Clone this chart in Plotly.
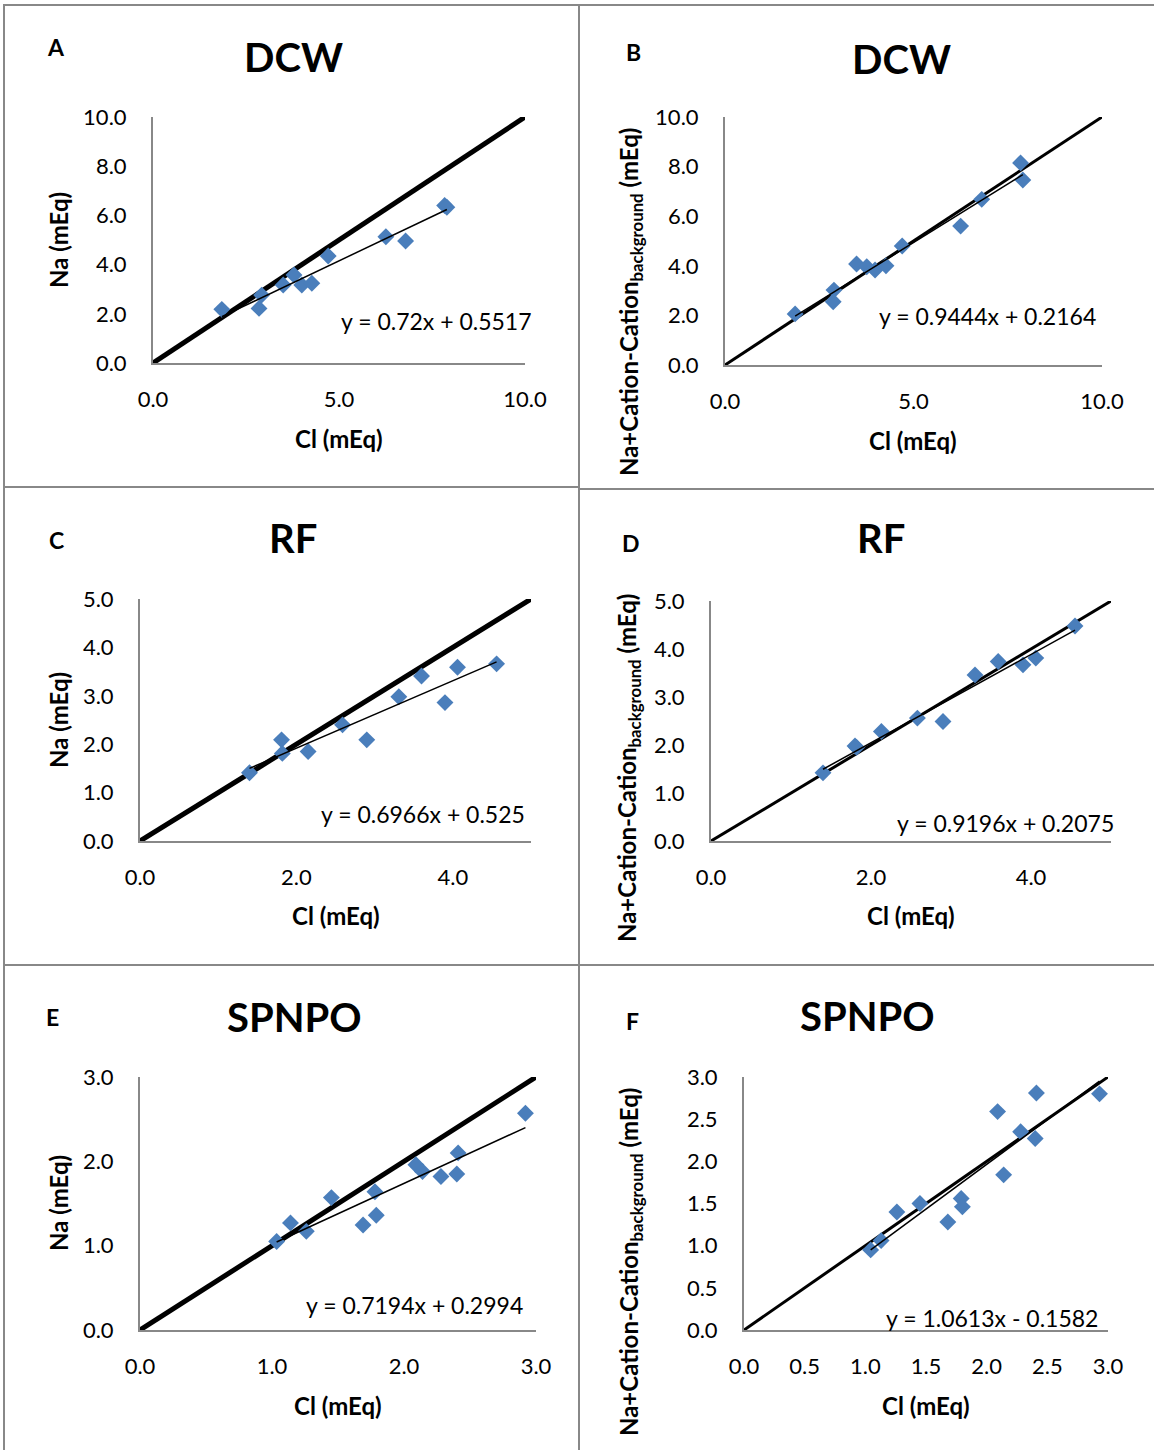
import plotly.graph_objects as go

W, H = 1154, 1450

# ---------------- data ----------------
A_cl = [1.85, 2.85, 2.92, 3.50, 3.79, 4.00, 4.27, 4.71, 6.26, 6.79, 7.84, 7.90]
A_na = [2.18, 2.22, 2.76, 3.17, 3.58, 3.17, 3.24, 4.35, 5.13, 4.96, 6.40, 6.33]

B_cl = [1.86, 2.87, 2.89, 3.49, 3.76, 3.98, 4.27, 4.70, 6.25, 6.81, 7.84, 7.90]
B_na = [2.06, 2.55, 3.02, 4.07, 3.96, 3.83, 4.00, 4.80, 5.60, 6.68, 8.15, 7.46]

C_cl = [1.40, 1.81, 1.82, 2.15, 2.59, 2.90, 3.31, 3.60, 3.90, 4.06, 4.56]
C_na = [1.41, 2.09, 1.81, 1.85, 2.40, 2.09, 2.98, 3.41, 2.86, 3.59, 3.66]

D_cl = [1.40, 1.80, 1.82, 2.13, 2.58, 2.90, 3.30, 3.59, 3.90, 4.06, 4.55]
D_na = [1.42, 1.98, 1.95, 2.28, 2.56, 2.49, 3.46, 3.74, 3.67, 3.81, 4.48]

E_cl = [1.035, 1.14, 1.26, 1.45, 1.69, 1.79, 1.78, 2.09, 2.14, 2.28, 2.41, 2.40, 2.92]
E_na = [1.05, 1.27, 1.17, 1.57, 1.245, 1.36, 1.64, 1.96, 1.88, 1.82, 2.10, 1.85, 2.57]

F_cl = [1.044, 1.13, 1.26, 1.45, 1.68, 1.79, 1.80, 2.09, 2.14, 2.28, 2.41, 2.40, 2.93]
F_na = [0.95, 1.06, 1.40, 1.50, 1.28, 1.56, 1.46, 2.59, 1.84, 2.35, 2.81, 2.27, 2.80]

panel_letters = ["A", "B", "C", "D", "E", "F"]
panel_titles = ["DCW", "DCW", "RF", "RF", "SPNPO", "SPNPO"]
slopes = [0.72, 0.9444, 0.6966, 0.9196, 0.7194, 1.0613]
intercepts = [0.5517, 0.2164, 0.525, 0.2075, 0.2994, -0.1582]
equations = ["y = 0.72x + 0.5517", "y = 0.9444x + 0.2164", "y = 0.6966x + 0.525",
             "y = 0.9196x + 0.2075", "y = 0.7194x + 0.2994", "y = 1.0613x - 0.1582"]
axis_max = [10, 10, 5, 5, 3, 3]
x_dtick = [5, 5, 2, 2, 1, 0.5]
y_dtick = [2, 2, 1, 1, 1, 0.5]
x_title = "Cl (mEq)"
y_titles = ["Na (mEq)", "Na+Cation-Cation<sub>background</sub> (mEq)"] * 3

xs = [A_cl, B_cl, C_cl, D_cl, E_cl, F_cl]
ys = [A_na, B_na, C_na, D_na, E_na, F_na]

# ---------------- layout geometry (pixels) ----------------
plot_px = [  # x0, x1, ytop, ybottom
    (153, 525, 117, 363),
    (725, 1102, 117, 365),
    (140, 531, 599, 841),
    (711, 1111, 601, 841),
    (140, 536, 1077, 1330),
    (744, 1108, 1077, 1330),
]
letter_pos = [(56, 47), (633, 52), (56, 540), (631, 543), (52, 1017), (632, 1021)]
title_pos = [(293, 57), (901, 59), (293, 538), (881, 538), (294, 1017), (867, 1016)]
xt_pos = [(339, 438), (913, 441), (336, 916), (911, 916), (338, 1405), (926, 1405)]
yt_pos = [(58, 240), (630, 302), (58, 720), (628, 768), (58, 1203), (630, 1262)]
eq_pos = [(436, 321), (987, 316), (423, 814), (1005, 823), (414, 1305), (992, 1318)]
diag_w = [5, 3, 5, 3, 5, 3]

FONT = "Lato, 'Open Sans', sans-serif"
BLUE = "#4A7EBB"
GRAY = "#888888"

def px(x):
    return x / W

def py(y):
    return 1 - y / H

fig = go.Figure()
layout = dict(
    template="none",
    width=W, height=H, autosize=False,
    margin=dict(l=0, r=0, t=0, b=0, pad=0, autoexpand=False),
    paper_bgcolor="white", plot_bgcolor="white", showlegend=False,
    font=dict(family=FONT, color="black"),
)
annotations = []

for i in range(6):
    n = i + 1
    xa = "x" if n == 1 else f"x{n}"
    ya = "y" if n == 1 else f"y{n}"
    x0, x1, yt, yb = plot_px[i]
    m = axis_max[i]
    common = dict(
        range=[0, m], showgrid=False, zeroline=False, showline=True,
        linecolor=GRAY, linewidth=2, ticks="", tickformat=".1f",
        tickfont=dict(family=FONT, size=22, color="black"),
        ticklabelstandoff=16, fixedrange=True, automargin=False,
    )
    layout["xaxis" if n == 1 else f"xaxis{n}"] = dict(
        common, domain=[px(x0), px(x1)], anchor=ya, dtick=x_dtick[i], tick0=0)
    layout["yaxis" if n == 1 else f"yaxis{n}"] = dict(
        common, domain=[py(yb), py(yt)], anchor=xa, dtick=y_dtick[i], tick0=0,
        ticklabelstandoff=20)

    # 1:1 line
    fig.add_trace(go.Scatter(x=[0, m], y=[0, m], mode="lines",
                             line=dict(color="black", width=diag_w[i]),
                             xaxis=xa, yaxis=ya, hoverinfo="skip"))
    # data
    fig.add_trace(go.Scatter(x=xs[i], y=ys[i], mode="markers",
                             marker=dict(symbol="diamond", size=13, color=BLUE,
                                         line=dict(width=0)),
                             cliponaxis=False, xaxis=xa, yaxis=ya))
    # trendline from reported equation
    xmin, xmax = min(xs[i]), max(xs[i])
    fig.add_trace(go.Scatter(x=[xmin, xmax],
                             y=[slopes[i] * xmin + intercepts[i], slopes[i] * xmax + intercepts[i]],
                             mode="lines", line=dict(color="black", width=1.5),
                             xaxis=xa, yaxis=ya, hoverinfo="skip"))

    def ann(text, pos, size, bold=False, angle=0):
        annotations.append(dict(
            text=f"<b>{text}</b>" if bold else text,
            x=px(pos[0]), y=py(pos[1]), xref="paper", yref="paper",
            xanchor="center", yanchor="middle", showarrow=False, textangle=angle,
            font=dict(family=FONT, size=size, color="black")))

    ann(panel_letters[i], letter_pos[i], 23, bold=True)
    ann(panel_titles[i], title_pos[i], 40, bold=True)
    ann(x_title, xt_pos[i], 24, bold=True)
    ann(y_titles[i], yt_pos[i], 24, bold=True, angle=-90)
    ann(equations[i], eq_pos[i], 23)

# panel borders
shapes = []
def hline(y, xa, xb):
    shapes.append(dict(type="line", xref="paper", yref="paper", x0=px(xa), x1=px(xb),
                       y0=py(y), y1=py(y), line=dict(color=GRAY, width=2)))
def vline(x, ya, yb):
    shapes.append(dict(type="line", xref="paper", yref="paper", x0=px(x), x1=px(x),
                       y0=py(ya), y1=py(yb), line=dict(color=GRAY, width=2)))

hline(5, 3, 1154)
hline(487, 3, 579)
hline(489, 579, 1154)
hline(965, 3, 1154)
vline(4, 5, 1450)
vline(579, 5, 1450)

layout["annotations"] = annotations
layout["shapes"] = shapes
fig.update_layout(**layout)
fig.write_html(
    "out.html",
    config={"displayModeBar": False},
    post_script="document.body.style.margin='0';document.body.style.padding='0';"
                "document.documentElement.style.overflow='hidden';",
)
